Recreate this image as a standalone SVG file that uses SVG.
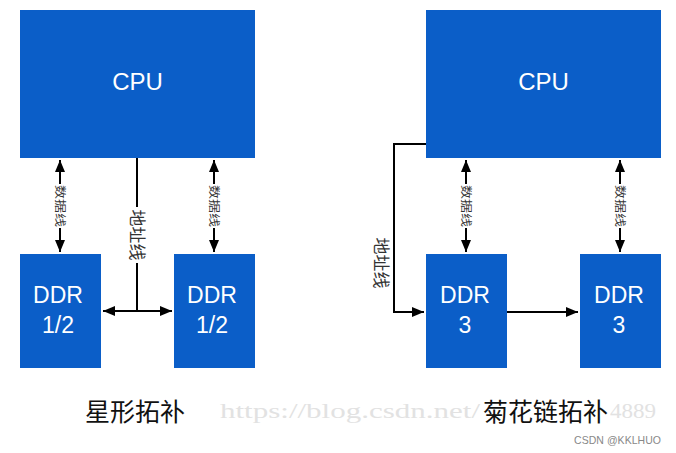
<svg xmlns="http://www.w3.org/2000/svg" width="676" height="453" viewBox="0 0 676 453">
<defs>
<marker id="ah" viewBox="0 0 12 10" refX="12" refY="5" markerWidth="12" markerHeight="10" markerUnits="userSpaceOnUse" orient="auto-start-reverse">
<path d="M0,0 L12,5 L0,10 Z" fill="#000"/>
</marker>
<style>
.box{fill:#0b5ec8;}
.t{font-family:"Liberation Sans",Arial,sans-serif;fill:#fff;text-anchor:middle;}
.cpu{font-size:24px;}
.ddr{font-size:23px;}
.ln{stroke:#000;stroke-width:2;fill:none;}
.lbl{font-family:"Noto Sans CJK SC",sans-serif;font-size:11px;fill:#333;text-anchor:middle;}
.addr{font-size:17px;}
.cap{font-family:"Noto Sans CJK SC",sans-serif;font-size:25px;fill:#111;}
.wm{font-family:"Liberation Serif",serif;font-size:20px;fill:#e2e2e2;}
</style>
</defs>
<rect width="676" height="453" fill="#fff"/>
<text class="wm" x="220" y="418" textLength="260" lengthAdjust="spacingAndGlyphs">https://blog.csdn.net/</text>
<text class="wm" x="610" y="418" textLength="46" lengthAdjust="spacingAndGlyphs">4889</text>
<g id="connectors">
<line class="ln" x1="60" y1="160" x2="60" y2="252" marker-start="url(#ah)" marker-end="url(#ah)"/>
<line class="ln" x1="214" y1="160" x2="214" y2="252" marker-start="url(#ah)" marker-end="url(#ah)"/>
<polyline class="ln" points="137,158 137,311"/>
<line class="ln" x1="103" y1="311" x2="172" y2="311" marker-start="url(#ah)" marker-end="url(#ah)"/>
<line class="ln" x1="466" y1="160" x2="466" y2="252" marker-start="url(#ah)" marker-end="url(#ah)"/>
<line class="ln" x1="620" y1="160" x2="620" y2="252" marker-start="url(#ah)" marker-end="url(#ah)"/>
<polyline class="ln" points="426,144 394,144 394,312 424,312" marker-end="url(#ah)"/>
<line class="ln" x1="507" y1="312" x2="578" y2="312" marker-end="url(#ah)"/>
<g>
<rect x="54" y="184" width="12" height="44" fill="#fff"/>
<text class="lbl" transform="translate(60,206) rotate(90)" dy="4" textLength="42" lengthAdjust="spacingAndGlyphs" x="-21" style="text-anchor:start">数据线</text>
<rect x="208" y="184" width="12" height="44" fill="#fff"/>
<text class="lbl" transform="translate(214,206) rotate(90)" dy="4" textLength="42" lengthAdjust="spacingAndGlyphs" x="-21" style="text-anchor:start">数据线</text>
<rect x="460" y="184" width="12" height="44" fill="#fff"/>
<text class="lbl" transform="translate(466,206) rotate(90)" dy="4" textLength="42" lengthAdjust="spacingAndGlyphs" x="-21" style="text-anchor:start">数据线</text>
<rect x="614" y="184" width="12" height="44" fill="#fff"/>
<text class="lbl" transform="translate(620,206) rotate(90)" dy="4" textLength="42" lengthAdjust="spacingAndGlyphs" x="-21" style="text-anchor:start">数据线</text>
<rect x="128" y="207" width="18" height="56" fill="#fff"/>
<text class="lbl addr" transform="translate(137,235) rotate(90)" dy="6">地址线</text>
<text class="lbl addr" transform="translate(381,263) rotate(90)" dy="6">地址线</text>
</g>
</g>
<g id="cpu1"><rect class="box" x="20" y="10" width="235" height="148"/><text class="t cpu" x="137.5" y="90">CPU</text></g>
<g id="cpu2"><rect class="box" x="426" y="10" width="235" height="148"/><text class="t cpu" x="543.5" y="90">CPU</text></g>
<g id="ddr1"><rect class="box" x="20" y="254" width="81" height="114"/><text class="t ddr" x="58" y="303">DDR</text><text class="t ddr" x="58" y="333">1/2</text></g>
<g id="ddr2"><rect class="box" x="174" y="254" width="81" height="114"/><text class="t ddr" x="212" y="303">DDR</text><text class="t ddr" x="212" y="333">1/2</text></g>
<g id="ddr3a"><rect class="box" x="426" y="254" width="81" height="114"/><text class="t ddr" x="465" y="303">DDR</text><text class="t ddr" x="465" y="333">3</text></g>
<g id="ddr3b"><rect class="box" x="580" y="254" width="81" height="114"/><text class="t ddr" x="619" y="303">DDR</text><text class="t ddr" x="619" y="333">3</text></g>
<text class="cap" x="85" y="421">星形拓补</text>
<text class="cap" x="483" y="421">菊花链拓补</text>
<text x="574" y="444" font-family="'Liberation Sans',sans-serif" font-size="10.5" fill="#888" textLength="87">CSDN @KKLHUO</text>
</svg>
